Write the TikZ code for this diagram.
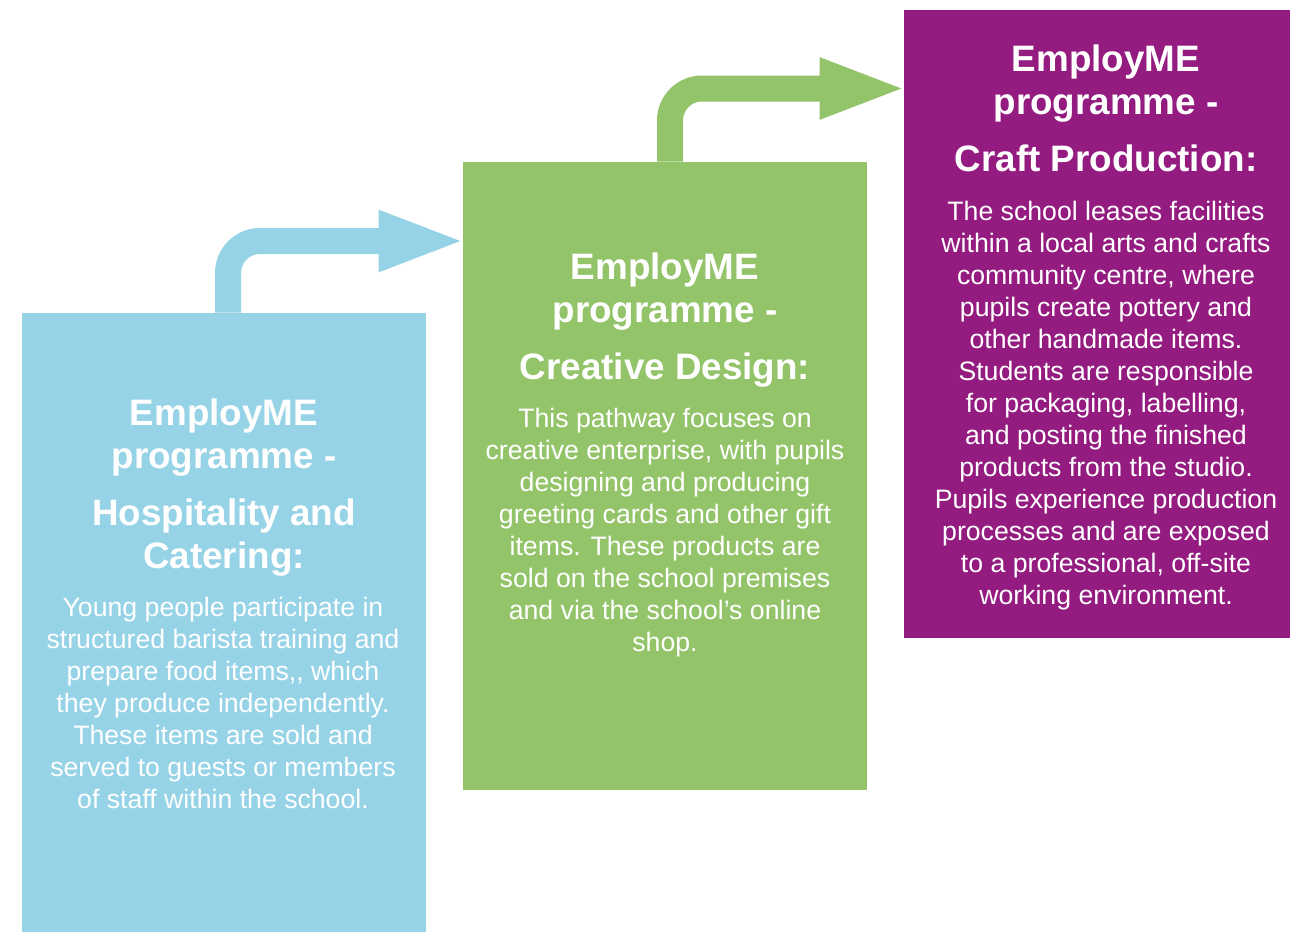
\documentclass[tikz,border=0pt]{standalone}
\usepackage{fontspec}
\setmainfont{Liberation Sans}
\usetikzlibrary{arrows.meta}
\definecolor{hospblue}{RGB}{151,211,231}
\definecolor{designgreen}{RGB}{148,196,106}
\definecolor{craftpurple}{RGB}{148,27,128}
\begin{document}
\begin{tikzpicture}[x=0.75pt,y=-0.75pt,
	panel/.style={rectangle,inner sep=0pt,minimum width=303pt,minimum height=471pt},
	heading/.style={anchor=north,inner sep=0pt,align=center,text=white,font=\fontsize{27.6pt}{32.25pt}\selectfont\bfseries},
	blurb/.style={anchor=north,inner sep=0pt,align=center,text=white,font=\fontsize{20pt}{24pt}\selectfont},
	bentarrow/.style={line width=19.5pt,rounded corners=24pt,-{Triangle[length=66pt,width=41pt]}}]
	\useasboundingbox (0,0) rectangle (1290,932);
	\fill[white] (0,0) rectangle (1290,932);
	% three panels
	\node[panel,fill=hospblue,minimum height=464.25pt] (blue) at (224,622.5) {};
	\node[panel,fill=designgreen] (green) at (665,476) {};
	\node[panel,fill=craftpurple,minimum width=289.5pt] (purple) at (1097,324) {};
	% bent arrows between panels
	\coordinate (bendA) at (228,241);
	\coordinate (bendB) at (670,88.5);
	\draw[bentarrow,hospblue] (blue.north -| bendA) -- (bendA) -- ([xshift=3pt]bendA -| green.west);
	\draw[bentarrow,designgreen] (green.north -| bendB) -- (bendB) -- ([xshift=3pt]bendB -| purple.west);
	% texts
	\node[heading] (blueTitle) at (224,398.5) {EmployME\\programme -\\[10.5pt]Hospitality and\\Catering:};
	\node[blurb] (blueText) at (223,597) {Young people participate in\\structured barista training and\\prepare food items,{}, which\\they produce independently.\\These items are sold and\\served to guests or members\\of staff within the school.};
	\node[heading] (greenTitle) at (665,252.5) {EmployME\\programme -\\[10.5pt]Creative Design:};
	\node[blurb] (greenText) at (665,408) {This pathway focuses on\\creative enterprise, with pupils\\designing and producing\\greeting cards and other gift\\items. These products are\\sold on the school premises\\and via the school’s online\\shop.};
	\node[heading] (purpleTitle) at (1106,44.5) {EmployME\\programme -\\[10.5pt]Craft Production:};
	\node[blurb] (purpleText) at (1106,201) {The school leases facilities\\within a local arts and crafts\\community centre, where\\pupils create pottery and\\other handmade items.\\Students are responsible\\for packaging, labelling,\\and posting the finished\\products from the studio.\\Pupils experience production\\processes and are exposed\\to a professional, off-site\\working environment.};
\end{tikzpicture}
\end{document}
